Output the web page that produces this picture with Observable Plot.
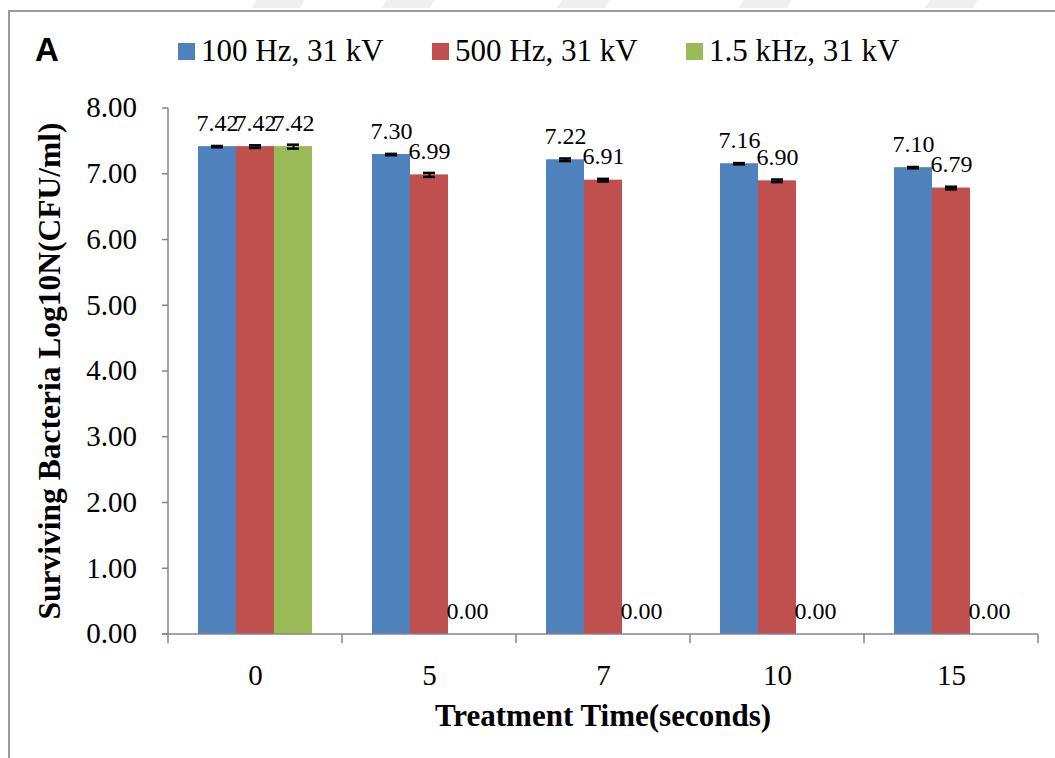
<!DOCTYPE html>
<html>
<head>
<meta charset="utf-8">
<script src="https://cdn.jsdelivr.net/npm/d3@7"></script>
<script src="https://cdn.jsdelivr.net/npm/@observablehq/plot@0.6"></script>
<style>
  html, body { margin: 0; padding: 0; background: #fff; }
  #wrap { position: relative; width: 1055px; height: 758px; overflow: hidden; font-family: "Liberation Serif", "Times New Roman", serif; color: #000; }
  #frame { position: absolute; left: 8px; top: 10px; width: 1100px; height: 800px; border-left: 2px solid #9a9a9a; border-top: 2px solid #9a9a9a; }
  .wm { position: absolute; top: -2px; height: 10px; width: 48px; background: #efefef; transform: skewX(-30deg); }
  #panel { position: absolute; left: 35px; top: 33px; font-family: "Liberation Sans", Arial, sans-serif; font-weight: bold; font-size: 33px; line-height: 1; }
  .leg { position: absolute; top: 35px; font-family: "Liberation Serif", "Times New Roman", serif; font-size: 31px; line-height: 1; white-space: nowrap; }
  .sw { position: absolute; top: 43px; width: 17px; height: 17px; }
  #chart { position: absolute; left: 0; top: 90px; }
  #ytitle { position: absolute; left: 50px; top: 371px; transform: translate(-50%, -50%) rotate(-90deg); font-weight: bold; font-size: 31.5px; white-space: nowrap; line-height: 1; }
  #xtitle { position: absolute; left: 603px; top: 715px; transform: translate(-50%, -50%); font-weight: bold; font-size: 31px; white-space: nowrap; line-height: 1; }
</style>
</head>
<body>
<div id="wrap">
  <div id="frame"></div>
  <div class="wm" style="left:255px"></div>
  <div class="wm" style="left:385px"></div>
  <div class="wm" style="left:560px"></div>
  <div class="wm" style="left:742px"></div>
  <div class="wm" style="left:928px"></div>
  <div id="panel">A</div>
  <div id="legend"></div>
  <div id="chart"></div>
  <div id="ytitle">Surviving Bacteria Log10N(CFU/ml)</div>
  <div id="xtitle">Treatment Time(seconds)</div>
</div>
<script>
// ---- data ----
const times = ["0", "5", "7", "10", "15"];
const series = ["100 Hz, 31 kV", "500 Hz, 31 kV", "1.5 kHz, 31 kV"];
const colors = ["#4f81bd", "#c0504d", "#9bbb59"];
const v100 = [7.42, 7.30, 7.22, 7.16, 7.10];
const e100 = [0.01, 0.01, 0.02, 0.01, 0.01];
const v500 = [7.42, 6.99, 6.91, 6.90, 6.79];
const e500 = [0.02, 0.03, 0.02, 0.02, 0.02];
const v1500 = [7.42, 0.00, 0.00, 0.00, 0.00];
const e1500 = [0.03, null, null, null, null];
const yTicks = [0, 1, 2, 3, 4, 5, 6, 7, 8];

const values = [v100, v500, v1500];
const errors = [e100, e500, e1500];
const data = [];
times.forEach((t, i) => series.forEach((s, j) => {
  data.push({time: t, series: s, value: values[j][i], err: errors[j][i]});
}));
const errData = data.filter(d => d.err != null);

// ---- legend (HTML) ----
const legendX = [178, 432, 686];
const legend = document.getElementById("legend");
series.forEach((s, j) => {
  const sw = document.createElement("div");
  sw.className = "sw"; sw.style.left = legendX[j] + "px"; sw.style.background = colors[j];
  legend.appendChild(sw);
  const tx = document.createElement("div");
  tx.className = "leg"; tx.style.left = (legendX[j] + 23) + "px"; tx.textContent = s;
  legend.appendChild(tx);
});

// ---- chart ----
const W = 1055, H = 668;
const serif = "'Liberation Serif', 'Times New Roman', serif";
const plot = Plot.plot({
  width: W, height: H,
  marginTop: 18, marginBottom: 124, marginLeft: 168, marginRight: 17,
  style: {fontFamily: serif, fontSize: "29px", color: "#000", background: "transparent", overflow: "visible"},
  fx: {domain: times, padding: 0, axis: "bottom", tickSize: 0, tickPadding: 30, label: null},
  x: {domain: series, paddingInner: 0, paddingOuter: 0.75, axis: null},
  y: {domain: [0, 8], axis: null},
  color: {domain: series, range: colors},
  marks: [
    Plot.barY(data, {fx: "time", x: "series", y: "value", fill: "series"}),
    Plot.ruleX(errData, {fx: "time", x: "series", y1: d => d.value - d.err, y2: d => d.value + d.err, stroke: "#000", strokeWidth: 2}),
    Plot.tickY(errData, {fx: "time", x: "series", y: d => d.value + d.err, inset: 13, stroke: "#000", strokeWidth: 2.5}),
    Plot.tickY(errData, {fx: "time", x: "series", y: d => d.value - d.err, inset: 13, stroke: "#000", strokeWidth: 2.5}),
    Plot.text(data, {fx: "time", x: "series", y: "value", text: d => d.value.toFixed(2), lineAnchor: "bottom", dy: -16, fontSize: 24, fill: "#000"})
  ]
});
document.getElementById("chart").appendChild(plot);

// ---- axes drawn from the library's scales ----
const fx = plot.scale("fx"), ys = plot.scale("y");
const svg = d3.select(plot);
const g = svg.append("g").attr("stroke", "#868686").attr("stroke-width", 1.5).attr("fill", "none");
const y0 = ys.apply(0), yTop = ys.apply(8);
const left = fx.apply(times[0]);
const right = fx.apply(times[times.length - 1]) + fx.bandwidth;
// y axis line + ticks
g.append("line").attr("x1", left).attr("x2", left).attr("y1", yTop).attr("y2", y0 + 9);
const tg = svg.append("g").attr("font-size", 29).attr("font-family", serif).attr("text-anchor", "end").attr("fill", "#000");
yTicks.forEach(v => {
  const yy = ys.apply(v);
  g.append("line").attr("x1", left - 6).attr("x2", left).attr("y1", yy).attr("y2", yy);
  tg.append("text").attr("x", left - 31).attr("y", yy).attr("dy", "0.32em").text(v.toFixed(2));
});
// x axis line + category boundary ticks
g.append("line").attr("x1", left - 6).attr("x2", right).attr("y1", y0).attr("y2", y0);
times.forEach(t => {
  const xx = fx.apply(t) + fx.bandwidth;
  g.append("line").attr("x1", xx).attr("x2", xx).attr("y1", y0).attr("y2", y0 + 9);
});
</script>
</body>
</html>
